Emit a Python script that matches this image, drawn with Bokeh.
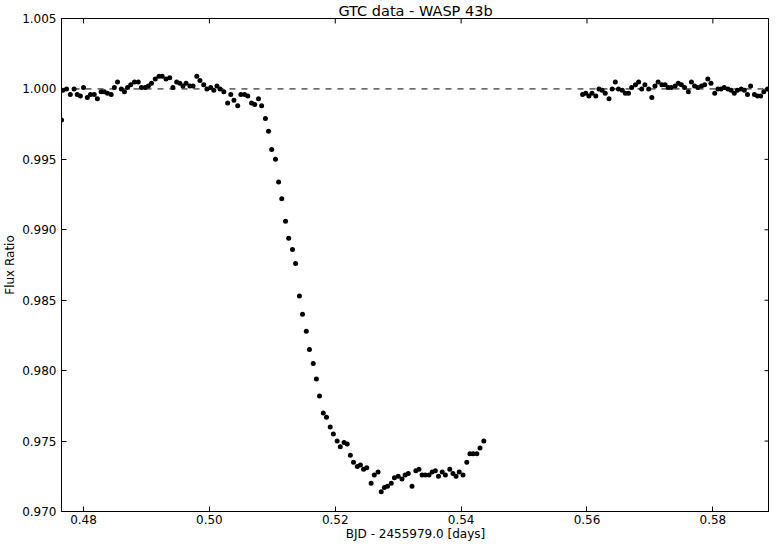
import math
from bokeh.plotting import figure
from bokeh.models import Span, FixedTicker, Range1d, NumeralTickFormatter
from bokeh.embed import file_html
from bokeh.resources import INLINE

# Light curve: ingress / in-transit part
bjd_1 = [0.4765, 0.4767, 0.4773, 0.4779, 0.4785, 0.4790, 0.4795, 0.4800, 0.4806, 0.4811,
         0.4817, 0.4822, 0.4828, 0.4833, 0.4838, 0.4844, 0.4849, 0.4854, 0.4860, 0.4865,
         0.4870, 0.4875, 0.4881, 0.4887, 0.4892, 0.4898, 0.4903, 0.4908, 0.4914, 0.4920,
         0.4925, 0.4931, 0.4937, 0.4942, 0.4948, 0.4953, 0.4958, 0.4963, 0.4969, 0.4974,
         0.4980, 0.4985, 0.4991, 0.4996, 0.5002, 0.5007, 0.5012, 0.5017, 0.5023, 0.5029,
         0.5034, 0.5039, 0.5045, 0.5050, 0.5056, 0.5061, 0.5067, 0.5072, 0.5078, 0.5083,
         0.5089, 0.5094, 0.5099, 0.5105, 0.5110, 0.5115, 0.5121, 0.5126, 0.5132, 0.5137,
         0.5143, 0.5148, 0.5154, 0.5159, 0.5165, 0.5170, 0.5175, 0.5181, 0.5186, 0.5192,
         0.5197, 0.5203, 0.5208, 0.5214, 0.5219, 0.5224, 0.5229, 0.5235, 0.5240, 0.5245,
         0.5250, 0.5257, 0.5262, 0.5268, 0.5273, 0.5278, 0.5283, 0.5289, 0.5294, 0.5300,
         0.5306, 0.5311, 0.5316, 0.5322, 0.5328, 0.5333, 0.5338, 0.5343, 0.5349, 0.5354,
         0.5359, 0.5364, 0.5370, 0.5375, 0.5382, 0.5387, 0.5392, 0.5397, 0.5403, 0.5409,
         0.5414, 0.5419, 0.5425, 0.5430, 0.5436]
flux_1 = [0.9978, 0.9999, 1.0000, 0.9996, 1.0000, 0.9996, 0.9995, 1.0001, 0.9994, 0.9996,
          0.9996, 0.9993, 0.9998, 0.9998, 0.9997, 0.9996, 1.0001, 1.0005, 1.0000, 0.9998,
          1.0001, 1.0003, 1.0005, 1.0005, 1.0001, 1.0001, 1.0002, 1.0004, 1.0007, 1.0009,
          1.0009, 1.0007, 1.0008, 1.0001, 1.0005, 1.0004, 1.0002, 1.0004, 1.0002, 1.0002,
          1.0009, 1.0006, 1.0003, 1.0000, 1.0001, 0.9999, 1.0002, 1.0000, 0.9998, 0.9990,
          0.9996, 0.9992, 0.9988, 0.9996, 0.9996, 0.9995, 0.9990, 0.9989, 0.9993, 0.9988,
          0.9979, 0.9970, 0.9957, 0.9950, 0.9934, 0.9922, 0.9906, 0.9894, 0.9886, 0.9876,
          0.9853, 0.9840, 0.9828, 0.9815, 0.9805, 0.9794, 0.9782, 0.9770, 0.9767, 0.9760,
          0.9755, 0.9750, 0.9746, 0.9749, 0.9748, 0.9740, 0.9735, 0.9732, 0.9733, 0.9730,
          0.9731, 0.9720, 0.9726, 0.9728, 0.9714, 0.9717, 0.9718, 0.9720, 0.9724, 0.9725,
          0.9723, 0.9726, 0.9727, 0.9718, 0.9729, 0.9730, 0.9726, 0.9726, 0.9726, 0.9728,
          0.9729, 0.9725, 0.9728, 0.9726, 0.9730, 0.9727, 0.9725, 0.9728, 0.9726, 0.9735,
          0.9741, 0.9741, 0.9741, 0.9745, 0.9750]

# Light curve: post-transit part
bjd_2 = [0.5593, 0.5598, 0.5603, 0.5608, 0.5614, 0.5619, 0.5624, 0.5629, 0.5635, 0.5640,
         0.5645, 0.5650, 0.5656, 0.5661, 0.5666, 0.5671, 0.5677, 0.5682, 0.5687, 0.5692,
         0.5698, 0.5703, 0.5708, 0.5713, 0.5719, 0.5724, 0.5729, 0.5734, 0.5740, 0.5745,
         0.5750, 0.5755, 0.5761, 0.5766, 0.5771, 0.5776, 0.5782, 0.5787, 0.5792, 0.5797,
         0.5803, 0.5808, 0.5813, 0.5818, 0.5824, 0.5829, 0.5834, 0.5839, 0.5845, 0.5850,
         0.5855, 0.5860, 0.5866, 0.5871, 0.5876, 0.5881, 0.5887]
flux_2 = [0.9996, 0.9997, 0.9995, 0.9997, 0.9995, 1.0000, 0.9999, 0.9997, 0.9993, 1.0000,
          1.0005, 1.0000, 0.9999, 0.9997, 0.9997, 1.0001, 1.0003, 1.0005, 1.0000, 1.0003,
          1.0000, 0.9994, 1.0002, 1.0005, 1.0003, 1.0003, 1.0001, 1.0001, 1.0002, 1.0004,
          1.0003, 1.0001, 0.9998, 1.0005, 1.0002, 1.0001, 1.0002, 1.0003, 1.0007, 1.0004,
          0.9997, 1.0000, 1.0000, 1.0001, 1.0000, 0.9999, 0.9997, 0.9999, 1.0000, 0.9999,
          0.9996, 1.0002, 0.9996, 0.9995, 0.9995, 0.9998, 1.0000]

x_ticks = [0.48, 0.50, 0.52, 0.54, 0.56, 0.58]
y_ticks = [0.970, 0.975, 0.980, 0.985, 0.990, 0.995, 1.000, 1.005]
x_lim = (0.4765, 0.5890)
y_lim = (0.970, 1.005)
baseline = 1.0

FONT = "DejaVu Sans"

p = figure(width=762, height=533, frame_width=708, frame_height=493,
           output_backend="svg", toolbar_location=None,
           x_range=Range1d(*x_lim), y_range=Range1d(*y_lim),
           title="GTC data - WASP 43b",
           min_border_left=0, min_border_right=0, min_border_top=14, min_border_bottom=0,
           background_fill_color="white", border_fill_color="white")

p.title.align = "center"
p.title.text_font = FONT
p.title.text_font_size = "14.5px"
p.title.text_font_style = "normal"
p.title.text_color = "black"
p.title.standoff = 0

p.grid.visible = False
p.outline_line_color = "black"
p.outline_line_width = 1

p.xaxis.axis_label = "BJD - 2455979.0 [days]"
p.yaxis.axis_label = "Flux Ratio"

for ax, tk, fmt in ((p.xaxis[0], x_ticks, "0.00"), (p.yaxis[0], y_ticks, "0.000")):
    ax.ticker = FixedTicker(ticks=tk)
    ax.formatter = NumeralTickFormatter(format=fmt)
    ax.major_tick_in = 5
    ax.major_tick_out = 0
    ax.minor_tick_line_color = None
    ax.axis_line_color = "black"
    ax.major_tick_line_color = "black"
    ax.major_label_text_font = FONT
    ax.major_label_text_font_size = "12px"
    ax.major_label_text_color = "black"
    ax.axis_label_text_font = FONT
    ax.axis_label_text_font_size = "12px"
    ax.axis_label_text_font_style = "normal"
    ax.axis_label_text_color = "black"

p.xaxis.major_label_standoff = 3
p.xaxis.axis_label_standoff = 0
p.yaxis.major_label_standoff = 5
p.yaxis.axis_label_standoff = 2

# inward tick marks on the top and right edges of the frame (clipped to the frame)
p.scatter(x_ticks, [y_lim[1]] * len(x_ticks), marker="dash", size=10, angle=math.pi / 2,
          line_color="black", line_width=1)
p.scatter([x_lim[1]] * len(y_ticks), y_ticks, marker="dash", size=10, angle=0,
          line_color="black", line_width=1)

p.add_layout(Span(location=baseline, dimension="width", line_color="black",
                  line_width=1, line_dash="6 6"))

p.scatter(bjd_1, flux_1, size=5, marker="circle", fill_color="black", line_color="black", line_width=0)
p.scatter(bjd_2, flux_2, size=5, marker="circle", fill_color="black", line_color="black", line_width=0)

open("out.html", "w").write(file_html(p, INLINE))
